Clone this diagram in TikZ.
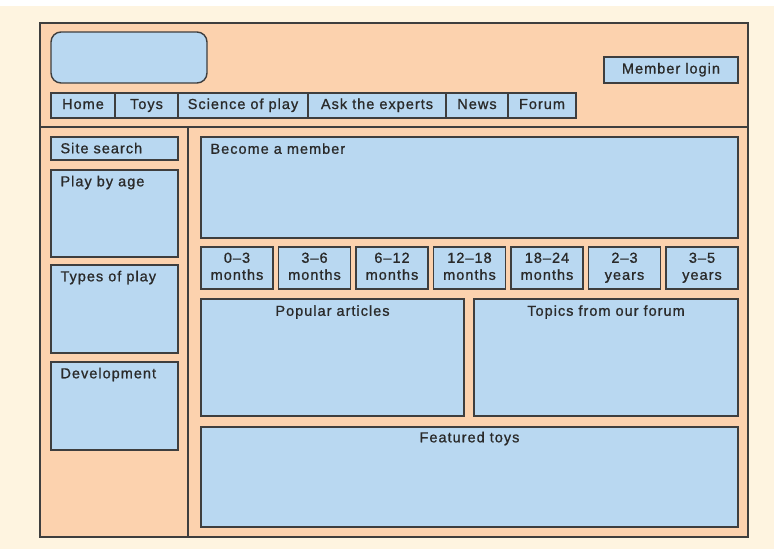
\documentclass[tikz,border=0pt]{standalone}
\usepackage{fontspec}
\setmainfont{Liberation Sans}[LetterSpace=7.0, FakeBold=1.0]
\definecolor{cream}{HTML}{FEF4E0}
\definecolor{peach}{HTML}{FCD2AE}
\definecolor{paleblue}{HTML}{B9D8F1}
\definecolor{edge}{HTML}{3E3E3E}
\definecolor{ink}{HTML}{2A2A2A}
% box from (x1,y1) to (x2,y2), measured down from the top left corner
\newcommand\wirebox[6]{%
  \node[box, minimum width={(#4-#2)*1pt}, minimum height={(#5-#3)*1pt}]
    (#1) at ({(#2+#4)/2},{(#3+#5)/2}) {#6};}
% age band: a box with two centred lines of text
\newcommand\ageband[4]{%
  \wirebox{#1}{#2}{247}{#2+72}{289}{}
  \node[toplabel] (#1top) at ([yshift=-16.5pt]#1.north) {#3};
  \node[toplabel] (#1bot) at ([yshift=-33.5pt]#1.north) {#4};}
\begin{document}
\begin{tikzpicture}[x=1pt, y=-1pt,
    font=\fontsize{14.5}{17}\selectfont, text=ink,
    box/.style={draw=edge, line width=1.4pt, fill=paleblue, inner sep=0pt,
      text height=10pt, text depth=3pt, rectangle},
    toplabel/.style={anchor=base, inner sep=0pt},
    sidelabel/.style={anchor=base west, inner sep=0pt},
    frame/.style={draw=edge, line width=1.4pt}]
  \useasboundingbox (0,0) rectangle (774,549);
  % page background
  \fill[cream] (0,0) rectangle (774,549);
  \fill[white] (0,0) rectangle (774,6);
  % site frame with header and sidebar dividers
  \draw[frame, fill=peach] (40,23) rectangle (748,537);
  \coordinate (hl) at (40,127);
  \coordinate (hr) at (748,127);
  \coordinate (st) at (188,127);
  \coordinate (sb) at (188,537);
  \draw[frame] (hl) -- (hr);
  \draw[frame] (st) -- (sb);
  % logo
  \node[box, rounded corners=10pt, minimum width=156pt, minimum height=51pt]
    (logo) at (129,57.5) {};
  % navigation bar
  \wirebox{home}{51}{93}{115}{118}{Home}
  \wirebox{toys}{115}{93}{178}{118}{Toys}
  \wirebox{science}{178}{93}{308}{118}{Science of play}
  \wirebox{experts}{308}{93}{446}{118}{Ask the experts}
  \wirebox{news}{446}{93}{508}{118}{News}
  \wirebox{forum}{508}{93}{576}{118}{Forum}
  \wirebox{login}{604}{57}{738}{83}{Member login}
  % sidebar
  \wirebox{search}{51}{137}{178}{160}{}
  \node[sidelabel] (searchtxt) at ([shift={(10pt,-17pt)}]search.north west) {Site search};
  \wirebox{age}{51}{170}{178}{257}{}
  \node[sidelabel] (agetxt) at ([shift={(10pt,-17pt)}]age.north west) {Play by age};
  \wirebox{types}{51}{265}{178}{353}{}
  \node[sidelabel] (typestxt) at ([shift={(10pt,-17pt)}]types.north west) {Types of play};
  \wirebox{dev}{51}{362}{178}{450}{}
  \node[sidelabel] (devtxt) at ([shift={(10pt,-17pt)}]dev.north west) {Development};
  % main column
  \wirebox{member}{201}{137}{738}{238}{}
  \node[sidelabel] (membertxt) at ([shift={(10pt,-17.5pt)}]member.north west) {Become a member};
  \ageband{a1}{201}{0–3}{months}
  \ageband{a2}{278.5}{3–6}{months}
  \ageband{a3}{356}{6–12}{months}
  \ageband{a4}{433.5}{12–18}{months}
  \ageband{a5}{511}{18–24}{months}
  \ageband{a6}{588.5}{2–3}{years}
  \ageband{a7}{666}{3–5}{years}
  \wirebox{popular}{201}{299}{464}{416}{}
  \node[toplabel] (populartxt) at ([yshift=-17.5pt]popular.north) {Popular articles};
  \wirebox{topics}{474}{299}{738}{416}{}
  \node[toplabel] (topicstxt) at ([yshift=-17.5pt]topics.north) {Topics from our forum};
  \wirebox{featured}{201}{427}{738}{527}{}
  \node[toplabel] (featuredtxt) at ([yshift=-16pt]featured.north) {Featured toys};
\end{tikzpicture}
\end{document}
